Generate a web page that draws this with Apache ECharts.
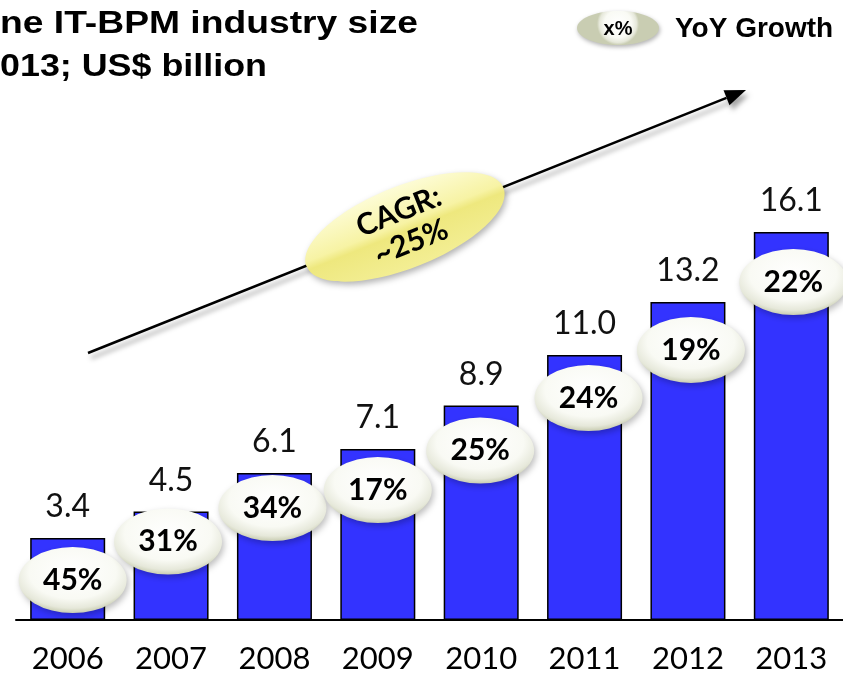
<!DOCTYPE html>
<html>
<head>
<meta charset="utf-8">
<script src="https://cdn.jsdelivr.net/npm/echarts@6/dist/echarts.min.js"></script>
<style>
html, body { margin: 0; padding: 0; background: #fff; }
#chart { width: 843px; height: 675px; }
</style>
</head>
<body>
<div id="chart"></div>
<script>
// industry size, US$ billion
var years = ['2006', '2007', '2008', '2009', '2010', '2011', '2012', '2013'];
var sizeValues = [3.4, 4.5, 6.1, 7.1, 8.9, 11.0, 13.2, 16.1];
var growthLabels = ['45%', '31%', '34%', '17%', '25%', '24%', '19%', '22%'];
var cagrText = 'CAGR:\n~25%';
var titleLines = ['ne IT-BPM industry size', '013; US$ billion'];

// how far each growth badge sits from its bar top (px)
var badgeDrop = [[5, 42], [-3, 30], [-2, 35], [0, 41], [-1, 45], [4, 43], [3, 48], [2, 50]];

var calibri = 'Lato, "Open Sans", sans-serif';
var arial = '"Liberation Sans", Arial, sans-serif';

function textWidth(txt, font) {
  var c = document.createElement('canvas').getContext('2d');
  c.font = font;
  return c.measureText(txt).width;
}

var badgeFill = {
  type: 'radial', x: 0.5, y: 0.38, r: 0.62,
  colorStops: [
    { offset: 0, color: '#ffffff' },
    { offset: 0.65, color: '#f9faf4' },
    { offset: 0.88, color: '#e6e8da' },
    { offset: 1, color: '#c9cdb2' }
  ]
};

var chart = echarts.init(document.getElementById('chart'));

// arrow geometry
var a0 = [88, 353], a1 = [746, 90];
var dx = a1[0] - a0[0], dy = a1[1] - a0[1];
var len = Math.sqrt(dx * dx + dy * dy);
var ux = dx / len, uy = dy / len;
var bx = a1[0] - 21 * ux, by = a1[1] - 21 * uy;
var head = [[a1[0], a1[1]], [bx - 8 * uy, by + 8 * ux], [bx + 8 * uy, by - 8 * ux]];
var ang = Math.atan2(-dy, dx);

var titleFont = 'bold 31px ' + arial;
var t1Scale = 418 / textWidth(titleLines[0], titleFont);
var t2Scale = 267 / textWidth(titleLines[1], titleFont);

var option = {
  animation: false,
  backgroundColor: '#fff',
  grid: { left: 16, top: 138, bottom: 55, width: 833 },
  xAxis: {
    type: 'category',
    data: years,
    axisLine: { lineStyle: { color: '#000', width: 2 } },
    axisTick: { show: false },
    axisLabel: { color: '#000', fontSize: 31, fontFamily: calibri, margin: 23 }
  },
  yAxis: { type: 'value', min: 0, max: 20, show: false, splitLine: { show: false } },
  series: [
    {
      type: 'bar',
      data: sizeValues,
      barWidth: 75,
      itemStyle: { color: '#3333ff', borderColor: '#000', borderWidth: 1.5 },
      label: {
        show: true, position: 'top', distance: 15,
        color: '#111', fontSize: 32, fontFamily: calibri,
        formatter: function (p) { return p.value.toFixed(1); }
      },
      z: 2
    },
    {
      type: 'scatter',
      data: sizeValues.map(function (v, i) {
        return { value: [i, v], symbolOffset: badgeDrop[i] };
      }),
      symbol: 'circle',
      symbolSize: [108, 66],
      itemStyle: {
        color: badgeFill, opacity: 1,
        shadowColor: 'rgba(0,0,0,0.25)', shadowBlur: 6, shadowOffsetX: 2, shadowOffsetY: 3
      },
      label: {
        show: true, position: 'inside',
        color: '#000', fontSize: 30, fontWeight: 'bold', fontFamily: calibri,
        formatter: function (p) { return growthLabels[p.dataIndex]; }
      },
      z: 5
    }
  ],
  graphic: [
    {
      type: 'text', left: 0, top: 9, scaleX: t1Scale,
      style: { text: titleLines[0], font: titleFont, fill: '#000' }
    },
    {
      type: 'text', left: 0, top: 52, scaleX: t2Scale,
      style: { text: titleLines[1], font: titleFont, fill: '#000' }
    },
    {
      type: 'ellipse', shape: { cx: 618, cy: 28, rx: 41, ry: 17 },
      style: {
        fill: badgeFill, shadowColor: 'rgba(0,0,0,0.3)', shadowBlur: 4, shadowOffsetX: 1, shadowOffsetY: 2
      }
    },
    {
      type: 'text', x: 618, y: 29,
      style: { text: 'x%', font: 'bold 20px ' + arial, fill: '#000', align: 'center', verticalAlign: 'middle' }
    },
    {
      type: 'text', x: 675, y: 29,
      style: { text: 'YoY Growth', font: 'bold 28px ' + arial, fill: '#000', align: 'left', verticalAlign: 'middle' }
    },
    {
      type: 'line', shape: { x1: a0[0], y1: a0[1], x2: bx, y2: by },
      style: { stroke: '#000', lineWidth: 2.5, shadowColor: 'rgba(0,0,0,0.35)', shadowBlur: 5, shadowOffsetX: 3, shadowOffsetY: 5 },
      z: 10
    },
    {
      type: 'polygon', shape: { points: head },
      style: { fill: '#000', shadowColor: 'rgba(0,0,0,0.35)', shadowBlur: 5, shadowOffsetX: 3, shadowOffsetY: 5 },
      z: 10
    },
    {
      type: 'ellipse', x: 405, y: 227, rotation: ang, z: 30,
      shape: { cx: 0, cy: 0, rx: 106, ry: 41 },
      style: {
        fill: {
          type: 'linear', x: 0, y: 0, x2: 0, y2: 1,
          colorStops: [
            { offset: 0, color: '#fdfcd6' },
            { offset: 0.45, color: '#f7f3a4' },
            { offset: 0.55, color: '#eee87e' },
            { offset: 1, color: '#f3ee94' }
          ]
        },
        shadowColor: 'rgba(0,0,0,0.3)', shadowBlur: 6, shadowOffsetX: 2, shadowOffsetY: 3
      }
    },
    {
      type: 'text', x: 405, y: 227, rotation: ang, z: 31,
      style: {
        text: cagrText, font: 'bold 30px ' + calibri, fill: '#000',
        align: 'center', verticalAlign: 'middle', lineHeight: 33
      }
    }
  ]
};

chart.setOption(option);
</script>
</body>
</html>
